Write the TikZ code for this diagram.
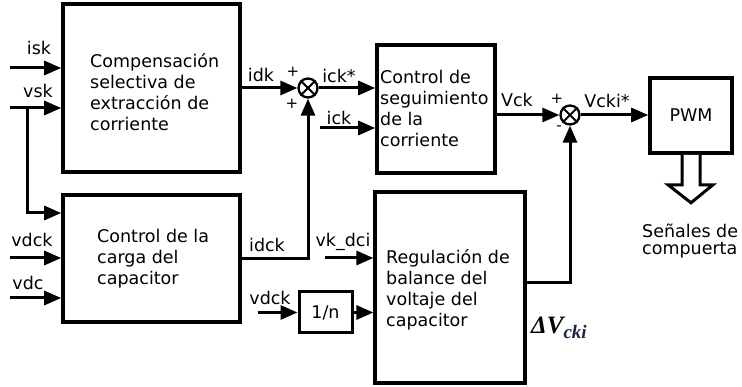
\documentclass[tikz,border=0pt]{standalone}
\usepackage{fontspec}
\setmainfont{DejaVu Sans}
\newfontfamily\tnr{Liberation Serif}
\usetikzlibrary{arrows.meta}
\definecolor{subnavy}{RGB}{25,35,75}
\begin{document}
\begin{tikzpicture}[x=1pt,y=-1pt,
  blk/.style={draw, line width=3.6pt, inner sep=0},
  lbl/.style={font=\fontsize{17.5}{21}\selectfont, inner sep=0, anchor=base},
  txt/.style={font=\fontsize{17.5}{21}\selectfont, align=left, inner sep=0, anchor=west},
  sgn/.style={font=\fontsize{15}{15}\selectfont, inner sep=0},
  sig/.style={line width=3pt, -{Triangle[length=17pt,width=14pt]}},
  sumc/.style={circle, draw, line width=2.3pt, minimum size=19pt, inner sep=0},
  xline/.style={line width=2pt}]
\useasboundingbox (0,0) rectangle (742,387);
% blocks
\node[blk, minimum width=177pt, minimum height=168pt] (b1) at (151.5,88) {};
\node[blk, minimum width=177pt, minimum height=127pt] (b2) at (151.5,258.5) {};
\node[blk, minimum width=118pt, minimum height=128pt] (b3) at (436,109) {};
\node[blk, line width=3.2pt, minimum width=150pt, minimum height=191pt] (b4) at (450,287.5) {};
\node[blk, minimum width=82pt, minimum height=75pt, font=\fontsize{17.5}{21}\selectfont] (pwm) at (691,115.5) {PWM};
\node[blk, line width=3pt, minimum width=53pt, minimum height=41pt, font=\fontsize{17.5}{21}\selectfont] (n) at (325.5,312.5) {1/n};
% block texts
\node[txt] (t1) at (90,92) {Compensación\\selectiva de\\extracción de\\corriente};
\node[txt] (t2) at (97,259) {Control de la\\carga del\\capacitor};
\node[txt] (t3) at (380,108) {Control de\\seguimiento\\de la\\corriente};
\node[txt] (t4) at (386,290) {Regulación de\\balance del\\voltaje del\\capacitor};
\node[txt, font=\fontsize{17.5}{16.5}\selectfont] (t5) at (642,241) {Señales de\\compuerta};
% summing junctions
\node[sumc] (s1) at (308,88) {};
\node[sumc] (s2) at (570,115) {};
\foreach \s in {s1,s2}{
  \draw[xline] (\s.45) -- (\s.225);
  \draw[xline] (\s.135) -- (\s.315);
}
% free ends
\coordinate (isk0) at (10,68);
\coordinate (vsk0) at (10,108);
\coordinate (br) at (27,108);
\coordinate (br2) at (27,213);
\coordinate (vdck0) at (10,258);
\coordinate (vdc0) at (10,298);
\coordinate (ick0) at (320,128);
\coordinate (vk0) at (325,258);
\coordinate (vd0) at (258,312.5);
\coordinate (b4o) at (525,283);
% connectors
\draw[sig] (isk0) -- (isk0 -| b1.west);
\draw[sig] (vsk0) -- (vsk0 -| b1.west);
\draw[sig] (br) -- (br2) -- (br2 -| b2.west);
\draw[sig] (vdck0) -- (vdck0 -| b2.west);
\draw[sig] (vdc0) -- (vdc0 -| b2.west);
\draw[sig] (b1.east |- s1.west) -- (s1.west);
\draw[sig] (b2.east) -| (s1.south);
\draw[sig] (s1.east) -- (s1.east -| b3.west);
\draw[sig] (ick0) -- (ick0 -| b3.west);
\draw[sig] (b3.east |- s2.west) -- (s2.west);
\draw[sig] (s2.east) -- (s2.east -| pwm.west);
\draw[sig] (vk0) -- (vk0 -| b4.west);
\draw[sig] (vd0) -- (n.west);
\draw[sig] (n.east) -- (n.east -| b4.west);
\draw[sig] (b4o) -| (s2.south);
% hollow output arrow
\draw[line width=3pt, line join=miter, fill=white] (pwm.south) ++(-9,0) -- ++(0,30) -- ++(-14,0) -- ++(23,18) -- ++(22,-18) -- ++(-13,0) -- ++(0,-30);
% signal labels
\node[lbl] (lisk) at (39,55) {isk};
\node[lbl] (lvsk) at (38,98) {vsk};
\node[lbl] (lidk) at (261,82) {idk};
\node[lbl] (lick1) at (339,83) {ick*};
\node[lbl] (lick) at (339,125) {ick};
\node[lbl] (lvck) at (517,107) {Vck};
\node[lbl] (lvcki) at (607,108) {Vcki*};
\node[lbl] (lvdck) at (32,247) {vdck};
\node[lbl] (lvdc) at (28,290) {vdc};
\node[lbl] (lidck) at (267,252) {idck};
\node[lbl] (lvk) at (343,247) {vk\_dci};
\node[lbl] (lvd) at (270,305) {vdck};
\node[sgn] (p1) at (293,72) {+};
\node[sgn] (p2) at (292,104) {+};
\node[sgn] (p3) at (557,99) {+};
\node[sgn] (m1) at (559,128) {-};
\node[inner sep=0, anchor=base west, font=\tnr\fontsize{25}{25}\selectfont\bfseries\itshape] (dv) at (531,334) {ΔV\textsubscript{\fontsize{19}{19}\selectfont\color{subnavy}cki}};
\end{tikzpicture}
\end{document}
